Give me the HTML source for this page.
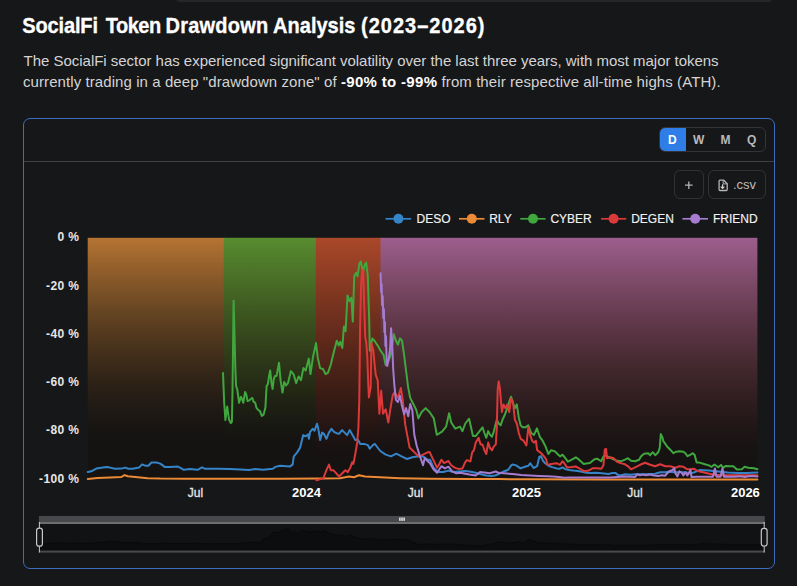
<!DOCTYPE html>
<html><head><meta charset="utf-8">
<style>
*{margin:0;padding:0;box-sizing:border-box}
html,body{width:797px;height:586px;overflow:hidden;background:#161719;font-family:"Liberation Sans",sans-serif}
.a{position:absolute;white-space:nowrap}
#topbar{position:absolute;left:176px;top:-6px;width:596px;height:8px;background:#26272a;border-radius:5px}
.tw{top:13.3px;font-size:20px;font-weight:bold;color:#fff;line-height:26px;-webkit-text-stroke:0.3px #fff;transform:scaleY(1.075);transform-origin:0 19.93px}
.p{left:23px;font-size:15px;color:#d4d4d4;line-height:21px}
.p b{color:#fff;letter-spacing:0.32px}
#box{position:absolute;left:22.5px;top:117.8px;width:752.5px;height:451.2px;border:1.5px solid #3e6cbf;border-radius:7px}
#sep{position:absolute;left:24px;top:160.5px;width:749.5px;height:1px;background:#3d4146}
#seg{position:absolute;left:659.3px;top:127.1px;width:106.8px;height:25.3px;border:1px solid #323438;border-radius:6px;overflow:hidden}
#seg .d{position:absolute;left:-1px;top:-1px;width:26.8px;height:calc(100% + 2px);background:#2f7de6}
#seg span{position:absolute;top:1px;height:23.3px;line-height:23.3px;font-size:12px;font-weight:bold;color:#b9b9b9;text-align:center;width:26px}
.btn{position:absolute;top:170.3px;height:29.2px;border:1px solid #303236;border-radius:6px}
.yl{position:absolute;right:717.6px;font-size:12px;font-weight:bold;color:#e6e6e6;line-height:14px;letter-spacing:0.4px}
.xl{position:absolute;font-size:12px;color:#e6e6e6;line-height:14px;transform:translateX(-50%);-webkit-text-stroke:0.3px #e6e6e6}
.xl.b{font-weight:bold;font-size:13px;color:#fff;-webkit-text-stroke:0}
.lg{position:absolute;top:211.5px;font-size:12px;color:#f2f2f2;line-height:14px;-webkit-text-stroke:0.15px #f2f2f2}
</style></head><body>
<div id="topbar"></div>
<div class="a tw" style="left:22.3px;letter-spacing:-0.15px">SocialFi</div>
<div class="a tw" style="left:105.7px;letter-spacing:-0.5px">Token</div>
<div class="a tw" style="left:165.6px;letter-spacing:0.2px">Drawdown</div>
<div class="a tw" style="left:273.1px;letter-spacing:0px">Analysis</div>
<div class="a tw" style="left:361px;letter-spacing:1px">(2023–2026)</div>
<div class="a p" style="top:50px;left:23.6px;letter-spacing:-0.026px">The SocialFi sector has experienced significant volatility over the last three years, with most major tokens</div>
<div class="a p" style="top:71px;letter-spacing:0.08px">currently trading in a deep "drawdown zone" of <b>-90% to -99%</b> from their respective all-time highs (ATH).</div>
<div id="box"></div>
<div id="sep"></div>
<div id="seg"><div class="d"></div>
<span style="left:-1px;color:#fff">D</span><span style="left:25.3px">W</span><span style="left:52.3px">M</span><span style="left:78.3px">Q</span></div>
<div class="btn" style="left:674px;width:30px"></div>
<div class="btn" style="left:708px;width:58px"></div>
<svg width="797" height="586" style="position:absolute;left:0;top:0" viewBox="0 0 797 586">
<defs>
<linearGradient id="go" x1="0" y1="0" x2="0" y2="1"><stop offset="0.000" stop-color="rgb(182,116,50)"/><stop offset="0.062" stop-color="rgb(164,106,47)"/><stop offset="0.125" stop-color="rgb(148,95,43)"/><stop offset="0.188" stop-color="rgb(131,86,40)"/><stop offset="0.250" stop-color="rgb(116,77,37)"/><stop offset="0.312" stop-color="rgb(101,68,34)"/><stop offset="0.375" stop-color="rgb(88,60,31)"/><stop offset="0.438" stop-color="rgb(75,52,29)"/><stop offset="0.500" stop-color="rgb(63,45,26)"/><stop offset="0.562" stop-color="rgb(52,38,24)"/><stop offset="0.625" stop-color="rgb(42,32,22)"/><stop offset="0.688" stop-color="rgb(34,27,21)"/><stop offset="0.750" stop-color="rgb(27,23,19)"/><stop offset="0.812" stop-color="rgb(22,20,18)"/><stop offset="0.875" stop-color="rgb(20,19,18)"/><stop offset="0.938" stop-color="rgb(20,19,18)"/><stop offset="1.000" stop-color="rgb(20,19,18)"/></linearGradient>
<linearGradient id="gg" x1="0" y1="0" x2="0" y2="1"><stop offset="0.000" stop-color="rgb(88,141,48)"/><stop offset="0.062" stop-color="rgb(82,129,44)"/><stop offset="0.125" stop-color="rgb(77,118,41)"/><stop offset="0.188" stop-color="rgb(72,107,38)"/><stop offset="0.250" stop-color="rgb(66,97,35)"/><stop offset="0.312" stop-color="rgb(61,86,32)"/><stop offset="0.375" stop-color="rgb(56,76,29)"/><stop offset="0.438" stop-color="rgb(51,67,27)"/><stop offset="0.500" stop-color="rgb(46,57,25)"/><stop offset="0.562" stop-color="rgb(41,49,23)"/><stop offset="0.625" stop-color="rgb(36,41,21)"/><stop offset="0.688" stop-color="rgb(31,33,20)"/><stop offset="0.750" stop-color="rgb(26,27,19)"/><stop offset="0.812" stop-color="rgb(22,21,18)"/><stop offset="0.875" stop-color="rgb(20,19,18)"/><stop offset="0.938" stop-color="rgb(20,19,18)"/><stop offset="1.000" stop-color="rgb(20,19,18)"/></linearGradient>
<linearGradient id="gr" x1="0" y1="0" x2="0" y2="1"><stop offset="0.000" stop-color="rgb(170,72,42)"/><stop offset="0.062" stop-color="rgb(159,67,39)"/><stop offset="0.125" stop-color="rgb(147,62,37)"/><stop offset="0.188" stop-color="rgb(136,58,34)"/><stop offset="0.250" stop-color="rgb(125,53,32)"/><stop offset="0.312" stop-color="rgb(114,49,30)"/><stop offset="0.375" stop-color="rgb(103,45,28)"/><stop offset="0.438" stop-color="rgb(93,40,26)"/><stop offset="0.500" stop-color="rgb(82,37,24)"/><stop offset="0.562" stop-color="rgb(72,33,23)"/><stop offset="0.625" stop-color="rgb(61,29,21)"/><stop offset="0.688" stop-color="rgb(51,26,20)"/><stop offset="0.750" stop-color="rgb(42,23,19)"/><stop offset="0.812" stop-color="rgb(32,20,19)"/><stop offset="0.875" stop-color="rgb(24,18,18)"/><stop offset="0.938" stop-color="rgb(21,18,18)"/><stop offset="1.000" stop-color="rgb(21,18,18)"/></linearGradient>
<linearGradient id="gp" x1="0" y1="0" x2="0" y2="1"><stop offset="0.000" stop-color="rgb(157,94,142)"/><stop offset="0.062" stop-color="rgb(146,87,128)"/><stop offset="0.125" stop-color="rgb(135,80,115)"/><stop offset="0.188" stop-color="rgb(124,73,103)"/><stop offset="0.250" stop-color="rgb(113,67,91)"/><stop offset="0.312" stop-color="rgb(103,60,80)"/><stop offset="0.375" stop-color="rgb(92,54,70)"/><stop offset="0.438" stop-color="rgb(82,48,60)"/><stop offset="0.500" stop-color="rgb(72,43,51)"/><stop offset="0.562" stop-color="rgb(63,38,43)"/><stop offset="0.625" stop-color="rgb(54,33,36)"/><stop offset="0.688" stop-color="rgb(45,28,30)"/><stop offset="0.750" stop-color="rgb(37,24,25)"/><stop offset="0.812" stop-color="rgb(29,21,21)"/><stop offset="0.875" stop-color="rgb(23,19,18)"/><stop offset="0.938" stop-color="rgb(21,18,18)"/><stop offset="1.000" stop-color="rgb(21,18,18)"/></linearGradient>
</defs>
<rect x="87.7" y="237.8" width="137" height="241.2" fill="url(#go)"/>
<rect x="223.7" y="237.8" width="93.1" height="241.2" fill="url(#gg)"/>
<rect x="315.8" y="237.8" width="65.7" height="241.2" fill="url(#gr)"/>
<rect x="380.5" y="237.8" width="376.9" height="241.2" fill="url(#gp)"/>
<text x="447" y="364" font-family="Liberation Sans" font-size="15" font-weight="bold" fill="#fff" fill-opacity="0.025" text-anchor="middle">DeFiLlama</text>
<g fill="none" stroke-width="2" stroke-linejoin="round" stroke-linecap="round">
<polyline points="87.8,478.9 97.5,477.9 110.1,477.4 121.4,477.0 124.5,475.1 127.7,476.3 135.2,477.0 147.7,478.2 160.3,478.6 185.0,478.8 230.0,478.8 280.0,478.7 320.0,478.5 340.0,478.3 349.0,476.5 354.0,477.2 359.0,475.2 365.0,476.5 375.0,477.1 390.0,477.8 400.0,478.2 430.0,478.8 470.0,479.0 500.0,479.1 530.0,479.3 600.0,479.4 757.4,479.4" stroke="#ec8a35"/>
<polyline points="87.8,472.0 91.3,471.3 96.3,468.6 101.3,467.8 106.3,466.9 110.1,467.6 115.1,468.8 121.4,468.6 125.2,467.6 128.3,468.8 132.7,468.8 139.0,467.6 142.1,464.4 145.2,465.7 148.4,465.7 151.5,462.5 156.5,462.5 160.3,463.6 164.7,466.9 170.3,466.9 177.8,466.6 180.0,467.6 183.8,469.8 190.0,469.1 197.6,469.8 202.0,467.3 205.1,468.8 217.6,468.8 230.2,469.1 240.2,469.4 249.0,470.1 255.3,469.1 262.8,469.8 272.8,468.8 275.4,466.9 280.0,465.8 290.1,466.4 292.6,464.6 293.8,456.4 297.0,452.6 300.1,447.6 302.0,440.1 303.2,435.1 305.7,436.3 308.2,434.4 308.9,438.8 310.1,431.9 312.6,428.8 314.5,430.7 317.0,423.8 318.3,428.8 320.2,440.1 322.1,432.6 323.9,433.8 326.4,438.8 328.9,432.6 331.5,428.8 334.0,431.9 336.5,433.2 339.0,433.8 342.1,430.1 344.6,432.6 347.1,435.1 349.7,430.1 352.2,434.4 355.3,440.1 357.8,439.5 360.3,443.9 364.1,443.9 367.8,445.1 369.8,448.7 372.9,445.1 374.1,444.3 375.0,444.0 377.5,447.5 380.3,451.0 385.7,454.6 391.0,456.4 396.3,453.7 401.6,456.4 407.0,459.0 412.3,457.3 417.6,456.4 423.0,456.4 428.3,460.0 430.0,459.7 433.5,467.6 437.9,472.0 443.2,472.0 448.4,470.6 452.8,472.0 459.0,471.5 465.1,471.1 469.5,471.5 475.7,472.8 480.0,474.1 486.2,475.5 491.5,475.9 495.0,475.5 499.4,473.7 503.8,471.5 508.2,469.8 511.2,465.4 512.6,464.5 516.1,465.4 520.5,468.4 524.9,466.7 528.4,465.8 530.1,463.2 533.6,468.0 537.1,466.2 539.3,457.0 541.1,456.1 542.8,460.5 545.0,463.2 548.6,465.8 552.1,467.1 556.5,468.4 560.0,468.7 562.6,467.4 565.3,469.1 568.8,470.0 573.2,470.5 577.6,470.9 582.0,471.8 586.3,472.7 590.7,472.9 595.1,472.7 599.5,473.1 603.9,473.5 608.3,474.0 612.7,473.1 615.3,472.9 617.9,474.9 621.5,475.3 625.0,474.3 630.0,474.8 635.1,474.3 645.1,474.3 655.2,473.8 660.2,472.3 665.3,472.3 668.3,471.8 675.4,472.3 685.4,472.3 690.0,473.4 693.8,472.5 699.4,470.1 708.8,470.6 718.2,471.5 727.6,472.5 737.0,472.9 746.4,472.9 757.4,472.5" stroke="#3584c8"/>
<polyline points="223.0,372.9 224.2,402.8 225.4,420.1 227.2,406.4 229.0,419.5 230.8,423.1 231.9,421.9 232.5,390.8 233.6,300.7 234.6,337.7 235.3,367.0 236.1,386.1 237.3,389.6 239.1,402.8 240.9,396.8 242.1,399.2 243.3,402.8 245.1,392.0 246.3,394.4 247.5,401.0 249.3,400.4 251.1,398.6 252.3,398.0 253.5,401.6 255.2,402.8 256.4,407.6 258.2,410.0 260.0,411.2 261.8,415.9 263.6,414.7 265.4,407.6 266.6,386.1 267.8,384.3 269.0,376.5 270.2,370.5 271.4,382.5 272.6,389.0 273.8,378.9 275.0,375.9 276.6,375.9 279.0,362.8 280.6,380.7 282.5,392.6 284.2,381.9 286.1,385.5 288.0,383.1 290.9,371.1 293.8,374.7 296.1,383.1 298.6,376.5 301.0,380.1 303.4,368.1 305.7,370.5 308.8,358.6 310.5,374.1 312.9,357.4 316.0,343.1 317.7,357.4 320.1,368.1 323.2,369.3 325.5,374.1 327.9,372.9 330.8,364.6 333.7,352.6 336.8,340.7 338.7,345.5 340.3,341.9 342.3,347.9 343.9,326.4 345.6,331.2 347.5,295.4 349.4,301.3 351.3,297.7 352.8,321.6 354.2,276.3 356.1,272.7 357.5,276.3 359.5,263.1 360.8,261.5 363.0,272.5 364.9,264.3 366.2,262.5 367.8,276.3 369.2,320.0 369.8,350.7 372.3,338.4 374.3,340.5 378.4,346.6 380.5,350.7 383.6,354.8 385.6,365.1 387.7,363.0 390.7,354.8 393.8,334.3 395.9,340.5 397.9,344.6 400.0,338.4 402.0,340.5 404.1,354.8 406.1,371.2 408.2,387.6 410.2,397.9 413.3,404.0 416.4,410.2 418.4,418.4 421.5,412.3 425.6,408.1 429.7,412.3 433.8,418.4 436.8,434.8 442.0,431.7 446.1,426.6 449.1,413.2 451.2,422.5 455.3,428.6 460.0,426.6 462.4,431.1 465.3,423.5 469.1,418.7 471.0,427.3 472.9,435.9 475.8,435.9 479.6,431.1 482.5,427.3 484.4,433.0 486.3,437.8 488.2,431.1 490.1,434.9 492.0,436.8 493.9,431.1 496.8,419.7 498.7,423.5 500.6,425.4 502.5,419.7 504.4,415.8 507.3,408.2 509.2,401.5 511.1,396.7 513.0,402.5 514.9,408.2 516.8,404.4 518.8,417.7 520.7,425.4 522.6,427.3 525.4,427.3 528.3,425.4 531.2,433.0 534.0,434.9 536.9,428.3 539.8,436.8 542.6,440.7 545.5,446.4 548.4,454.0 551.2,450.2 555.0,451.4 557.8,454.2 560.0,456.4 562.6,454.7 565.3,458.2 567.9,461.7 571.4,459.9 575.8,457.3 579.3,459.9 583.7,463.9 586.3,463.4 589.9,463.0 594.2,459.5 596.9,458.6 601.3,461.2 603.5,456.4 605.7,455.5 609.2,457.3 613.0,459.0 617.1,460.8 621.5,461.2 625.0,459.7 628.0,458.2 631.0,460.8 635.1,461.3 639.1,459.7 641.1,456.2 644.1,453.7 648.2,453.2 650.2,455.2 652.7,452.2 655.2,455.2 658.2,452.2 659.7,448.2 660.8,434.1 662.3,437.1 663.3,441.1 664.8,443.1 667.3,446.7 670.3,449.7 673.3,453.2 676.4,451.7 679.4,451.2 683.4,451.7 685.4,453.2 687.4,456.2 690.0,455.0 692.8,453.2 694.7,455.0 696.6,462.6 699.4,462.6 704.1,464.0 708.8,465.4 711.6,466.8 714.5,464.5 718.2,467.3 721.0,464.9 722.9,467.8 725.7,465.9 729.5,466.3 733.3,466.3 737.0,469.6 741.7,469.2 744.6,466.8 748.3,467.8 754.0,468.2 757.4,469.2" stroke="#40a63e"/>
<polyline points="316.4,480.2 323.3,478.4 326.4,470.2 329.0,464.6 330.8,470.2 333.3,470.2 335.2,472.1 339.0,476.5 342.8,472.7 345.3,470.2 347.8,472.1 350.3,467.7 352.2,462.1 353.4,463.9 355.3,453.9 357.2,442.6 358.4,427.5 359.3,400.0 360.1,326.4 361.1,285.5 362.2,269.5 363.2,271.1 364.2,306.0 365.2,336.7 366.3,342.8 367.3,357.2 368.3,385.0 368.9,397.4 370.7,387.0 371.4,343.0 373.4,351.0 374.5,363.3 375.7,374.6 377.7,380.5 379.4,413.7 381.2,390.7 383.0,413.7 385.7,409.3 388.3,422.6 391.0,404.9 392.8,395.1 394.5,392.4 398.1,397.8 400.8,388.0 402.5,397.8 405.2,424.4 407.9,438.6 409.6,447.5 413.2,451.0 416.7,454.6 419.4,456.4 423.0,454.6 426.5,452.8 429.5,451.9 437.0,467.6 438.8,465.0 441.4,459.7 444.0,463.2 448.4,461.0 451.0,465.0 454.6,467.6 458.1,468.9 462.5,468.4 465.1,462.3 466.9,460.1 470.4,461.4 472.1,452.6 473.9,450.2 475.8,442.6 478.6,437.8 480.6,444.5 482.5,444.5 484.4,450.2 486.3,454.0 488.2,442.6 490.1,448.3 492.0,450.2 493.9,446.4 495.8,444.5 496.8,427.3 497.7,389.1 498.7,381.5 500.0,389.1 501.2,404.4 501.9,412.0 503.5,404.4 505.4,408.2 507.3,404.4 509.2,412.0 511.1,398.6 513.0,402.5 514.9,419.7 516.8,423.5 518.8,433.0 520.7,438.8 523.5,440.7 526.4,445.5 528.3,427.3 530.2,434.9 532.1,440.7 534.0,442.6 535.9,440.7 537.1,450.0 539.8,452.1 542.4,454.4 545.9,458.8 547.7,464.9 551.2,464.0 556.5,463.2 560.0,464.8 562.6,461.2 564.4,463.4 567.0,467.4 571.4,467.0 575.8,466.5 578.4,467.8 582.0,470.0 584.6,471.3 589.0,470.5 592.5,468.3 596.9,468.3 601.3,468.7 603.5,465.2 604.8,449.4 606.1,449.0 607.0,458.2 610.5,457.3 613.6,458.2 617.1,461.7 621.5,463.4 625.0,464.3 628.0,466.3 631.0,469.3 635.1,467.3 640.1,464.8 645.1,462.8 650.2,464.8 655.2,466.3 660.2,464.3 665.3,466.3 670.3,466.3 675.4,467.8 679.4,466.3 683.4,466.8 687.4,469.3 690.0,469.2 693.8,468.7 697.5,471.0 704.1,472.5 713.5,474.8 722.9,475.3 732.3,475.3 741.7,475.3 751.1,475.3 757.4,475.3" stroke="#dc3a3a"/>
<polyline points="380.6,273.2 381.1,292.0 381.6,284.0 382.1,305.0 382.7,296.0 383.3,318.0 383.9,309.0 384.4,332.0 384.9,322.0 385.4,346.0 386.0,336.0 386.6,360.0 387.2,366.0 388.7,358.9 390.1,348.7 391.1,328.2 392.2,344.6 393.2,369.2 394.4,385.6 395.9,399.9 397.9,402.0 400.0,395.8 402.0,406.1 404.1,414.3 406.1,408.1 408.2,416.3 410.2,404.0 412.3,410.2 414.3,434.8 416.7,445.7 419.4,454.6 421.2,459.9 423.0,465.3 424.7,458.2 428.3,461.7 430.0,463.2 433.5,469.3 437.0,472.8 441.4,466.2 444.9,468.4 448.4,466.7 452.0,471.1 456.3,473.3 460.7,472.8 465.1,473.7 469.5,474.6 475.7,475.5 480.0,472.0 484.4,472.4 489.7,473.3 495.8,471.5 498.5,472.8 503.8,473.3 512.6,474.1 521.3,475.0 530.1,475.5 538.9,475.9 547.7,476.3 556.5,476.8 565.0,477.7 568.8,477.6 582.6,477.6 596.4,477.4 610.2,477.6 625.0,476.4 635.1,476.9 637.1,474.3 640.0,475.2 643.0,474.5 646.0,475.3 650.0,474.5 654.0,475.4 658.2,475.9 662.0,475.3 665.0,475.8 667.3,473.3 669.3,471.3 672.3,470.3 674.3,468.3 675.4,473.3 677.4,476.4 679.4,471.3 681.5,472.5 683.4,475.4 685.4,472.3 687.4,475.4 690.5,470.0 691.5,477.0 696.4,476.8 713.0,476.8 714.9,468.5 716.5,476.8 720.5,476.8 722.5,468.5 724.0,476.8 735.0,476.8 740.0,476.2 745.0,477.0 750.0,476.0 757.4,476.6" stroke="#a57cd0"/>
</g>
<!-- plus -->
<path d="M685 185.2h7.6M688.8 181.4v7.6" stroke="#b4b4b4" stroke-width="1.3"/>
<!-- file icon -->
<path d="M720 180.2h3.8l3.4 3.5v5.9q0 .9-.9 .9h-6.3q-.9 0-.9-.9v-8.5q0-.9.9-.9z" fill="none" stroke="#b4b4b4" stroke-width="1.3" stroke-linejoin="round"/><path d="M723.2 180.4v3.5h3.6" fill="none" stroke="#b4b4b4" stroke-width="1"/><path d="M722.6 184.2v4M720.8 186.6l1.8 1.8 1.8-1.8" fill="none" stroke="#d0d0d0" stroke-width="1.2"/>
<!-- legend icons -->
<g stroke-width="1.7">
<line x1="385.5" y1="218.8" x2="411.2" y2="218.8" stroke="#3584c8"/><circle cx="398.4" cy="218.8" r="5" fill="#3584c8"/>
<line x1="459" y1="218.8" x2="484.5" y2="218.8" stroke="#ec8a35"/><circle cx="471.8" cy="218.8" r="5" fill="#ec8a35"/>
<line x1="520.3" y1="218.8" x2="545.6" y2="218.8" stroke="#40a63e"/><circle cx="533" cy="218.8" r="5" fill="#40a63e"/>
<line x1="601" y1="218.8" x2="626.2" y2="218.8" stroke="#dc3a3a"/><circle cx="613.6" cy="218.8" r="5" fill="#dc3a3a"/>
<line x1="682.4" y1="218.8" x2="708" y2="218.8" stroke="#a57cd0"/><circle cx="695.2" cy="218.8" r="5" fill="#a57cd0"/>
</g>
<!-- slider -->
<rect x="39.4" y="524" width="724.8" height="26.5" fill="#111214"/>
<path d="M39.8,550.5 L39.8,544.4 L43.6,544.2 L49.0,543.3 L54.4,543.0 L59.8,542.7 L64.0,543.0 L69.4,543.4 L76.2,543.3 L80.3,543.0 L83.6,543.4 L88.4,543.4 L95.2,543.0 L98.6,541.9 L101.9,542.3 L105.4,542.3 L108.7,541.3 L114.2,541.3 L118.3,541.6 L123.0,542.7 L129.1,542.7 L137.2,542.6 L139.6,543.0 L143.7,543.7 L150.4,543.4 L158.6,543.7 L163.4,542.9 L166.7,543.4 L180.2,543.4 L193.9,543.4 L204.7,543.5 L214.2,543.8 L221.0,543.4 L229.1,543.7 L240.0,543.4 L242.8,542.7 L247.8,542.4 L258.7,542.6 L261.4,542.0 L262.7,539.3 L266.1,538.0 L269.5,536.4 L271.6,533.9 L272.9,532.2 L275.6,532.6 L278.3,532.0 L279.0,533.5 L280.3,531.2 L283.0,530.1 L285.1,530.8 L287.8,528.5 L289.2,530.1 L291.2,533.9 L293.3,531.4 L295.2,531.8 L297.9,533.5 L300.7,531.4 L303.5,530.1 L306.2,531.2 L308.9,531.6 L311.6,531.8 L314.9,530.6 L317.6,531.4 L320.3,532.2 L323.2,530.6 L325.9,532.0 L329.2,533.9 L331.9,533.7 L334.6,535.1 L338.7,535.1 L342.7,535.5 L344.9,536.7 L348.3,535.5 L349.5,535.3 L350.5,535.2 L353.2,536.3 L356.3,537.5 L362.1,538.7 L367.8,539.3 L373.6,538.4 L379.3,539.3 L385.1,540.1 L390.9,539.6 L396.6,539.3 L402.4,539.3 L408.2,540.4 L410.0,540.3 L413.8,543.0 L418.6,544.4 L424.3,544.4 L429.9,543.9 L434.7,544.4 L441.4,544.2 L448.0,544.1 L452.8,544.2 L459.5,544.7 L464.1,545.1 L470.8,545.6 L476.6,545.7 L480.3,545.6 L485.1,545.0 L489.9,544.2 L494.6,543.7 L497.9,542.2 L499.4,541.9 L503.2,542.2 L507.9,543.2 L512.7,542.7 L516.5,542.4 L518.3,541.5 L522.1,543.1 L525.9,542.5 L528.3,539.5 L530.2,539.2 L532.0,540.6 L534.4,541.5 L538.3,542.4 L542.1,542.8 L546.9,543.2 L550.7,543.3 L553.5,542.9 L556.4,543.4 L560.2,543.7 L564.9,543.9 L569.7,544.0 L574.5,544.3 L579.1,544.6 L583.9,544.7 L588.6,544.6 L593.4,544.8 L598.1,544.9 L602.9,545.1 L607.7,544.8 L610.5,544.7 L613.3,545.4 L617.2,545.5 L621.0,545.2 L626.4,545.3 L631.9,545.2 L642.7,545.2 L653.6,545.0 L659.0,544.5 L664.6,544.5 L667.8,544.3 L675.5,544.5 L686.3,544.5 L691.3,544.9 L695.4,544.6 L701.5,543.8 L711.6,543.9 L721.8,544.2 L732.0,544.6 L742.1,544.7 L752.3,544.7 L764.2,544.6 L764.2,550.5Z" fill="#0c0d0e"/>
<polyline points="39.8,544.4 43.6,544.2 49.0,543.3 54.4,543.0 59.8,542.7 64.0,543.0 69.4,543.4 76.2,543.3 80.3,543.0 83.6,543.4 88.4,543.4 95.2,543.0 98.6,541.9 101.9,542.3 105.4,542.3 108.7,541.3 114.2,541.3 118.3,541.6 123.0,542.7 129.1,542.7 137.2,542.6 139.6,543.0 143.7,543.7 150.4,543.4 158.6,543.7 163.4,542.9 166.7,543.4 180.2,543.4 193.9,543.4 204.7,543.5 214.2,543.8 221.0,543.4 229.1,543.7 240.0,543.4 242.8,542.7 247.8,542.4 258.7,542.6 261.4,542.0 262.7,539.3 266.1,538.0 269.5,536.4 271.6,533.9 272.9,532.2 275.6,532.6 278.3,532.0 279.0,533.5 280.3,531.2 283.0,530.1 285.1,530.8 287.8,528.5 289.2,530.1 291.2,533.9 293.3,531.4 295.2,531.8 297.9,533.5 300.7,531.4 303.5,530.1 306.2,531.2 308.9,531.6 311.6,531.8 314.9,530.6 317.6,531.4 320.3,532.2 323.2,530.6 325.9,532.0 329.2,533.9 331.9,533.7 334.6,535.1 338.7,535.1 342.7,535.5 344.9,536.7 348.3,535.5 349.5,535.3 350.5,535.2 353.2,536.3 356.3,537.5 362.1,538.7 367.8,539.3 373.6,538.4 379.3,539.3 385.1,540.1 390.9,539.6 396.6,539.3 402.4,539.3 408.2,540.4 410.0,540.3 413.8,543.0 418.6,544.4 424.3,544.4 429.9,543.9 434.7,544.4 441.4,544.2 448.0,544.1 452.8,544.2 459.5,544.7 464.1,545.1 470.8,545.6 476.6,545.7 480.3,545.6 485.1,545.0 489.9,544.2 494.6,543.7 497.9,542.2 499.4,541.9 503.2,542.2 507.9,543.2 512.7,542.7 516.5,542.4 518.3,541.5 522.1,543.1 525.9,542.5 528.3,539.5 530.2,539.2 532.0,540.6 534.4,541.5 538.3,542.4 542.1,542.8 546.9,543.2 550.7,543.3 553.5,542.9 556.4,543.4 560.2,543.7 564.9,543.9 569.7,544.0 574.5,544.3 579.1,544.6 583.9,544.7 588.6,544.6 593.4,544.8 598.1,544.9 602.9,545.1 607.7,544.8 610.5,544.7 613.3,545.4 617.2,545.5 621.0,545.2 626.4,545.3 631.9,545.2 642.7,545.2 653.6,545.0 659.0,544.5 664.6,544.5 667.8,544.3 675.5,544.5 686.3,544.5 691.3,544.9 695.4,544.6 701.5,543.8 711.6,543.9 721.8,544.2 732.0,544.6 742.1,544.7 752.3,544.7 764.2,544.6" fill="none" stroke="#0a0a0b" stroke-width="1"/>
<rect x="38.9" y="516" width="725.9" height="6" fill="#47484b"/>
<rect x="38.9" y="522" width="725.9" height="2" fill="#6e6e70"/>
<rect x="38.9" y="550.6" width="725.9" height="2" fill="#4a4a4c"/>
<line x1="39.4" y1="522" x2="39.4" y2="552.5" stroke="#c8c8c8" stroke-width="1"/>
<line x1="764.2" y1="522" x2="764.2" y2="552.5" stroke="#c8c8c8" stroke-width="1"/>
<rect x="36.6" y="528.2" width="5.8" height="18" rx="2.5" fill="#141517" stroke="#c8c8c8" stroke-width="1.2"/>
<rect x="761.3" y="528.4" width="5.8" height="17.6" rx="2.5" fill="#141517" stroke="#c8c8c8" stroke-width="1.2"/>
<rect x="399" y="517.6" width="6" height="3.2" fill="#d8d8d8"/>
<path d="M400.5 517.6v3.2M402 517.6v3.2M403.5 517.6v3.2" stroke="#888" stroke-width="0.6"/>
</svg>
<div class="a" style="left:733px;top:177px;font-size:13px;color:#bdbdbd;line-height:15px">.csv</div>
<div class="lg" style="left:416.5px">DESO</div>
<div class="lg" style="left:489.2px">RLY</div>
<div class="lg" style="left:550.4px">CYBER</div>
<div class="lg" style="left:631.2px">DEGEN</div>
<div class="lg" style="left:712.9px">FRIEND</div>
<div class="yl" style="top:230px">0 %</div>
<div class="yl" style="top:278.5px">-20 %</div>
<div class="yl" style="top:327px">-40 %</div>
<div class="yl" style="top:375px">-60 %</div>
<div class="yl" style="top:423px">-80 %</div>
<div class="yl" style="top:471.5px">-100 %</div>
<div class="xl" style="left:195.5px;top:486px">Jul</div>
<div class="xl b" style="left:306.5px;top:486px">2024</div>
<div class="xl" style="left:415.5px;top:486px">Jul</div>
<div class="xl b" style="left:526.5px;top:486px">2025</div>
<div class="xl" style="left:634.9px;top:486px">Jul</div>
<div class="xl b" style="left:745.4px;top:486px">2026</div>
</body></html>
